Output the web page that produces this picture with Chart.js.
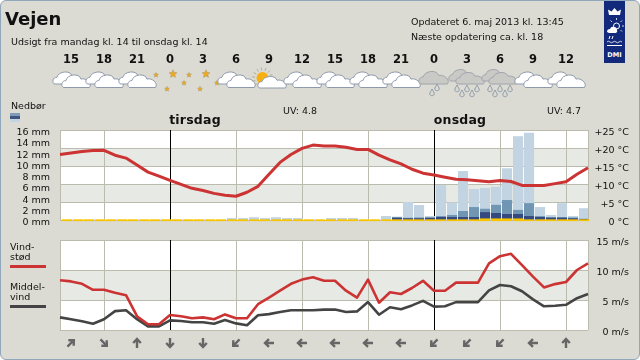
<!DOCTYPE html>
<html lang="da">
<head>
<meta charset="utf-8">
<title>Vejen</title>
<script src="https://cdn.jsdelivr.net/npm/chart.js@4"></script>
<style>
  html, body { margin: 0; padding: 0; background: #fff; }
  #frame { position: relative; width: 640px; height: 360px; overflow: hidden; background: #dbdbd3;
           box-sizing: border-box; border: 1px solid #8fa6bb; border-radius: 6px;
           font-family: "DejaVu Sans", sans-serif; font-size: 9.5px; color: #111; }
  #inner { position: absolute; left: -1px; top: -1px; width: 640px; height: 360px; }
  .t { position: absolute; white-space: nowrap; line-height: 12px; }
  canvas { position: absolute; left: 0; }
  .day { font-weight: bold; font-size: 12.5px; letter-spacing: 0.2px; transform: translateX(-50%); }
  .ln { position: absolute; left: 10px; width: 36px; height: 2.5px; }
</style>
</head>
<body>
<div id="frame"><div id="inner">
  <canvas id="chartTemp" width="640" height="250" style="top:0"></canvas>
  <canvas id="chartVind" width="640" height="150" style="top:210px"></canvas>

  <div class="t" style="left:5px;top:9px;font-size:18px;line-height:20px;font-weight:bold">Vejen</div>
  <div class="t" style="left:11px;top:36px">Udsigt fra mandag kl. 14 til onsdag kl. 14</div>
  <div class="t" style="left:411px;top:16px">Opdateret 6. maj 2013 kl. 13:45</div>
  <div class="t" style="left:411px;top:31px">Næste opdatering ca. kl. 18</div>

  <div class="t" style="left:11px;top:100px">Nedbør</div>
  <div style="position:absolute;left:10px;top:113px;width:10px;height:9px;background:linear-gradient(#7d9ab8 0 3px,#3f5380 3px 6px,#c2d4e2 6px)"></div>
  <div class="t day" style="left:195px;top:114px">tirsdag</div>
  <div class="t day" style="left:460px;top:114px">onsdag</div>
  <div class="t" style="left:283px;top:105px">UV: 4.8</div>
  <div class="t" style="left:547px;top:105px">UV: 4.7</div>

  <div class="t" style="left:10px;top:241px">Vind-</div>
  <div class="t" style="left:10px;top:251px">stød</div>
  <div class="ln" style="top:265px;background:#cc3333"></div>
  <div class="t" style="left:10px;top:281px">Middel-</div>
  <div class="t" style="left:10px;top:291px">vind</div>
  <div class="ln" style="top:305px;background:#444"></div>

  <svg style="position:absolute;left:604px;top:0" width="21" height="63" viewBox="0 0 21 63">
    <rect width="21" height="63" fill="#12297c"/>
    <path d="M5 15 L4 9.5 L7.5 11.5 L10.5 8 L13.5 11.5 L17 9.5 L16 15 Z" fill="#fff"/>
    <circle cx="12.5" cy="26" r="3" fill="none" stroke="#fff"/>
    <path d="M12.5 20v-2M18 26h2M16.5 22l1.5-1.5M16.5 30l1.5 1.5M8 22l-1.5-1.5" stroke="#fff" stroke-width="0.8"/>
    <path d="M3 32 q0-3 3-3 q1-3 4-2 q3 0 3 3 q1 2-1 3 L5 33 Z" fill="#fff"/>
    <path d="M6 36l-1 3M9 36l-1 3" stroke="#fff"/>
    <path d="M3 42q1.5-1.5 3 0t3 0 3 0 3 0 3 0" fill="none" stroke="#fff" stroke-width="0.8"/>
    <path d="M3 45.5h15" stroke="#fff" stroke-width="1"/>
    <text x="10.5" y="57" text-anchor="middle" font-family="DejaVu Sans" font-weight="bold" font-size="6.5" fill="#fff">DMI</text>
  </svg>
</div></div>

<script>
// timer regnet fra midnat mandag/tirsdag
const timer = [-10,-9,-8,-7,-6,-5,-4,-3,-2,-1,0,1,2,3,4,5,6,7,8,9,10,11,12,13,14,15,16,17,18,19,20,21,22,23,24,25,26,27,28,29,30,31,32,33,34,35,36,37,38];
const gitterTimer = [-10,-6,0,6,12,18,24,30,36,38];

const temperatur = [18.2,18.6,19,19.3,19.35,18,17.2,15.3,13.3,12.2,11,9.9,8.8,8.2,7.4,6.85,6.6,7.7,9.35,12.7,16,18.2,19.9,20.8,20.55,20.55,20.2,19.6,19.6,18,16.7,15.6,14.1,13,12.5,11.9,11.3,11.2,10.9,10.65,11,10.7,9.6,9.6,9.6,10.1,10.65,12.7,14.5];
const vindstod = [8.3,8.1,7.7,6.7,6.7,6.2,5.8,2.3,0.95,0.95,2.5,2.3,1.95,2.1,1.8,2.6,1.95,1.95,4.3,5.4,6.55,7.7,8.4,8.8,8.2,8.2,6.55,5.4,8.4,4.55,6.3,6,7,8.2,6.55,6.55,7.9,7.9,7.9,11.1,12.3,12.7,10.8,8.9,7.1,7.65,8,10,11.1];
const middelvind = [2.1,1.8,1.45,1.05,1.8,3.15,3.3,1.8,0.6,0.6,1.6,1.5,1.3,1.3,1.05,1.65,1.1,0.8,2.45,2.65,3,3.3,3.3,3.3,3.4,3.4,3,3.1,4.65,2.55,3.8,3.45,4.1,4.85,3.9,3.95,4.65,4.65,4.65,6.6,7.5,7.3,6.45,5.1,3.95,4.05,4.2,5.3,6];

// nedbør pr. time (mm), toppen af hvert lag, time -10 til 37
const nedborLys = [0,0,0,0,0,0,0,0,0,0,0,0,0,0,0,0.35,0.35,0.5,0.35,0.5,0.35,0.35,0,0,0.35,0.35,0.35,0,0,0.71,0.6,3.2,2.67,0.7,6.2,3.14,8.7,5.5,5.7,5.9,9.2,14.9,15.5,2.3,0.9,3,0.7,2.1];
const nedborMellem = [0,0,0,0,0,0,0,0,0,0,0,0,0,0,0,0,0,0,0,0,0,0,0,0,0,0,0,0,0,0,0.5,0.4,0.45,0.45,0.7,0.9,1.6,2.3,2,2.7,3.55,1.8,3,0.7,0.53,0.53,0.45,0];
const nedborMork = [0,0,0,0,0,0,0,0,0,0,0,0,0,0,0,0,0,0,0,0,0,0,0,0,0,0,0,0,0,0,0.4,0.3,0.3,0.4,0.53,0.53,0.53,0.53,1.4,1.25,1.07,1.07,0.7,0.53,0.4,0.4,0.3,0.2];
const nedborGul = [0.12,0.12,0.12,0.12,0.12,0.12,0.12,0.12,0.12,0.12,0.12,0.12,0.12,0.12,0.12,0.12,0.12,0.12,0.12,0.12,0.12,0.12,0.12,0.12,0.12,0.12,0.12,0.12,0.12,0.12,0.12,0.12,0.12,0.12,0.12,0.12,0.12,0.12,0.28,0.28,0.28,0.28,0.12,0.12,0.12,0.12,0.12,0.12];

const mmTicks = [0,2,4,6,8,10,12,14,16];
const tempTicks = [0,5,10,15,20,25];
const vindTicks = [0,5,10,15];
const tempBaand = [[5,10],[15,20]];
const vindBaand = [[5,10]];

// ikoner og vindretning hver 3. time
const ikonTimer = [-9,-6,-3,0,3,6,9,12,15,18,21,24,27,30,33,36];
const ikonLabels = ["15","18","21","0","3","6","9","12","15","18","21","0","3","6","9","12"];
const ikoner = ["sky","sky","sky","stjerne","stjerne","sky","sol","sky","sky","sky","sky","regn1","regn2","regn2","sky","sky"];
const vindRetning = [45,135,0,180,180,225,270,270,270,270,270,225,225,225,270,0];

const stregFarve = "#bcbcae";
const baandFarve = "#e7e9e4";

Chart.defaults.font.family = '"DejaVu Sans", sans-serif';
Chart.defaults.font.size = 9.5;
Chart.defaults.color = "#111";

// tom første linje og lav linjehøjde: labels står lidt under stregen som i originalen
const tickFont = { size: 9.5, lineHeight: "5.4px" };
function tickTekst(tekst) {
    return ["", tekst];
}

function baandPlugin(baand, skala) {
    return {
        id: "baand",
        beforeDraw(chart) {
            const ctx = chart.ctx;
            const a = chart.chartArea;
            ctx.save();
            ctx.fillStyle = "#fff";
            ctx.fillRect(a.left, a.top, a.right - a.left, a.bottom - a.top);
            ctx.fillStyle = baandFarve;
            baand.forEach(b => {
                const y1 = chart.scales[skala].getPixelForValue(b[1]);
                const y0 = chart.scales[skala].getPixelForValue(b[0]);
                ctx.fillRect(a.left, y1, a.right - a.left, y0 - y1);
            });
            ctx.restore();
        }
    };
}

function skyForm(ctx, x, yb, w, h, fyld, kant) {
    ctx.beginPath();
    ctx.moveTo(x + 0.07 * w, yb);
    ctx.bezierCurveTo(x - 0.04 * w, yb, x - 0.04 * w, yb - 0.58 * h, x + 0.14 * w, yb - 0.58 * h);
    ctx.bezierCurveTo(x + 0.18 * w, yb - 1.1 * h, x + 0.62 * w, yb - 1.25 * h, x + 0.68 * w, yb - 0.7 * h);
    ctx.bezierCurveTo(x + 0.84 * w, yb - 0.85 * h, x + 1.1 * w, yb - 0.35 * h, x + 0.98 * w, yb);
    ctx.closePath();
    ctx.fillStyle = fyld;
    ctx.fill();
    ctx.lineWidth = 1;
    ctx.strokeStyle = kant;
    ctx.stroke();
}

function hvidSky(ctx, cx) {
    skyForm(ctx, cx - 18, 84, 28, 11.5, "#fff", "#8e99ab");
    skyForm(ctx, cx - 9, 87.5, 28, 12, "#fff", "#8e99ab");
}

function stjerne(ctx, x, y, r) {
    ctx.beginPath();
    for (let i = 0; i < 10; i++) {
        const v = -Math.PI / 2 + i * Math.PI / 5;
        const q = i % 2 === 0 ? r : r * 0.45;
        ctx.lineTo(x + q * Math.cos(v), y + q * Math.sin(v));
    }
    ctx.closePath();
    ctx.fillStyle = "#f0a81c";
    ctx.fill();
    ctx.lineWidth = 0.5;
    ctx.strokeStyle = "#a89868";
    ctx.stroke();
}

function draabe(ctx, x, y) {
    ctx.beginPath();
    ctx.moveTo(x, y - 4);
    ctx.bezierCurveTo(x + 1, y - 1.5, x + 2.5, y - 0.5, x + 2.2, y + 1.2);
    ctx.bezierCurveTo(x + 1.8, y + 3.2, x - 1.8, y + 3.2, x - 2.2, y + 1.2);
    ctx.bezierCurveTo(x - 2.5, y - 0.5, x - 1, y - 1.5, x, y - 4);
    ctx.closePath();
    ctx.lineWidth = 1;
    ctx.strokeStyle = "#8d9aa8";
    ctx.stroke();
}

function tegnIkon(ctx, type, cx) {
    if (type === "sky") {
        hvidSky(ctx, cx);
    } else if (type === "stjerne") {
        stjerne(ctx, cx - 14, 75, 2.6);
        stjerne(ctx, cx + 3, 74, 4.2);
        stjerne(ctx, cx + 14, 83, 2.6);
        stjerne(ctx, cx - 3, 89, 2.6);
    } else if (type === "sol") {
        ctx.strokeStyle = "#b0ad98";
        ctx.lineWidth = 1;
        for (let i = 0; i < 9; i++) {
            const v = Math.PI * 0.75 + i * Math.PI / 7;
            ctx.beginPath();
            ctx.moveTo(cx - 6.5 + 7.5 * Math.cos(v), 78 + 7.5 * Math.sin(v));
            ctx.lineTo(cx - 6.5 + 10.5 * Math.cos(v), 78 + 10.5 * Math.sin(v));
            ctx.stroke();
        }
        ctx.beginPath();
        ctx.arc(cx - 6.5, 78, 6, 0, Math.PI * 2);
        ctx.fillStyle = "#f8b010";
        ctx.fill();
        skyForm(ctx, cx - 11, 88, 28, 11, "#fff", "#8e99ab");
    } else if (type === "regn1") {
        skyForm(ctx, cx - 15, 84, 29, 12, "#c9c9c6", "#a0a4ac");
        draabe(ctx, cx - 2, 93);
        draabe(ctx, cx + 3, 88);
    } else if (type === "regn2") {
        skyForm(ctx, cx - 18, 81, 26, 11, "#c9c9c6", "#a0a4ac");
        skyForm(ctx, cx - 11, 84, 28, 11, "#c9c9c6", "#a0a4ac");
        [-10, -5, 0, 5, 10].forEach((d, i) => draabe(ctx, cx + d, i % 2 === 0 ? 89 : 94));
    }
}

const ikonPlugin = {
    id: "ikoner",
    afterDraw(chart) {
        const ctx = chart.ctx;
        const x = chart.scales.x;
        ctx.save();
        ikonTimer.forEach((t, i) => {
            const cx = x.getPixelForValue(t);
            tegnIkon(ctx, ikoner[i], cx);
        });
        ctx.font = 'bold 11.5px "DejaVu Sans"';
        ctx.fillStyle = "#111";
        ctx.textAlign = "center";
        ctx.textBaseline = "middle";
        ikonTimer.forEach((t, i) => ctx.fillText(ikonLabels[i], x.getPixelForValue(t), 60.5));
        ctx.restore();
    }
};

const pilPlugin = {
    id: "pile",
    afterDraw(chart) {
        const ctx = chart.ctx;
        const x = chart.scales.x;
        ctx.save();
        ctx.strokeStyle = "#666";
        ctx.lineWidth = 2.4;
        ikonTimer.forEach((t, i) => {
            ctx.save();
            ctx.translate(x.getPixelForValue(t), 133);
            ctx.rotate(vindRetning[i] * Math.PI / 180);
            ctx.beginPath();
            ctx.moveTo(0, 5);
            ctx.lineTo(0, -3.5);
            ctx.moveTo(-3.8, 0);
            ctx.lineTo(0, -4);
            ctx.lineTo(3.8, 0);
            ctx.stroke();
            ctx.restore();
        });
        ctx.restore();
    }
};

function xAkse() {
    return {
        type: "linear",
        min: -10,
        max: 38,
        offset: false,
        stacked: true,
        afterBuildTicks: s => { s.ticks = gitterTimer.map(v => ({ value: v })); },
        afterFit: s => { s.height = 0; },
        ticks: { display: false },
        border: { display: false },
        grid: {
            offset: false,
            drawTicks: false,
            color: c => (c.tick && (c.tick.value === 0 || c.tick.value === 24)) ? "#000" : stregFarve,
            z: 0
        }
    };
}

function punkter(xs, ys, forskud) {
    return ys.map((v, i) => ({ x: xs[i] + forskud, y: v }));
}

function soejle(data, farve, raekke) {
    return {
        type: "bar",
        data: punkter(timer, data, 0.64),
        yAxisID: "yMm",
        backgroundColor: farve,
        barPercentage: 0.92,
        categoryPercentage: 1,
        order: raekke
    };
}

function linje(data, farve, akse, bredde) {
    return {
        type: "line",
        data: punkter(timer, data, 0),
        yAxisID: akse,
        borderColor: farve,
        borderWidth: bredde,
        pointRadius: 0,
        tension: 0,
        borderJoinStyle: "round",
        clip: false,
        order: 1
    };
}

// den gule stribe går ned over bundstregen
const gulSoejle = soejle(nedborGul, "#f8c400", 2);
gulSoejle.base = -0.2;
gulSoejle.clip = false;

new Chart(document.getElementById("chartTemp"), {
    type: "bar",
    data: {
        datasets: [
            linje(temperatur, "#cc3333", "yTemp", 3),
            gulSoejle,
            soejle(nedborMork, "#34497f", 3),
            soejle(nedborMellem, "#7096b3", 4),
            soejle(nedborLys, "#c2d4e2", 5)
        ]
    },
    options: {
        responsive: false,
        animation: false,
        layout: { padding: { top: 130, bottom: 30, left: 0, right: 11 } },
        plugins: { legend: { display: false }, tooltip: { enabled: false } },
        scales: {
            x: xAkse(),
            yMm: {
                position: "left",
                min: 0,
                max: 16,
                stacked: false,
                afterBuildTicks: s => { s.ticks = mmTicks.map(v => ({ value: v })); },
                afterFit: s => { s.width = 60; },
                ticks: { padding: 10, autoSkip: false, font: tickFont, callback: v => tickTekst(v + " mm") },
                border: { display: false },
                grid: { display: false, drawTicks: false }
            },
            yTemp: {
                position: "right",
                min: 0,
                max: 25,
                afterBuildTicks: s => { s.ticks = tempTicks.map(v => ({ value: v })); },
                afterFit: s => { s.width = 41; },
                ticks: { padding: 7, crossAlign: "far", autoSkip: false, font: tickFont, callback: v => tickTekst((v > 0 ? "+" : "") + v + " °C") },
                border: { display: false },
                grid: { drawTicks: false, color: stregFarve }
            }
        }
    },
    plugins: [baandPlugin(tempBaand, "yTemp"), ikonPlugin]
});

new Chart(document.getElementById("chartVind"), {
    type: "line",
    data: {
        datasets: [
            linje(vindstod, "#cc3333", "yVind", 2.6),
            linje(middelvind, "#444444", "yVind", 2.6)
        ]
    },
    options: {
        responsive: false,
        animation: false,
        layout: { padding: { top: 30, bottom: 30, left: 60, right: 11 } },
        plugins: { legend: { display: false }, tooltip: { enabled: false } },
        scales: {
            x: xAkse(),
            yVind: {
                position: "right",
                min: 0,
                max: 15,
                afterBuildTicks: s => { s.ticks = vindTicks.map(v => ({ value: v })); },
                afterFit: s => { s.width = 41; },
                ticks: { padding: 8, crossAlign: "far", autoSkip: false, font: tickFont, callback: v => tickTekst(v + " m/s") },
                border: { display: false },
                grid: { drawTicks: false, color: stregFarve }
            }
        }
    },
    plugins: [baandPlugin(vindBaand, "yVind"), pilPlugin]
});
</script>
</body>
</html>
